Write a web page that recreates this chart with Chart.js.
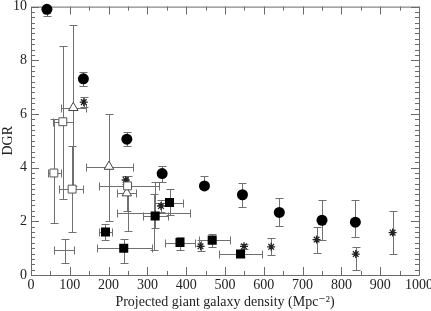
<!DOCTYPE html>
<html>
<head>
<meta charset="utf-8">
<script src="https://cdn.jsdelivr.net/npm/chart.js@4"></script>
<style>
  html, body { margin: 0; padding: 0; background: #fff; }
  #wrap { width: 431px; height: 311px; }
</style>
</head>
<body>
<div id="wrap"><canvas id="chart" width="431" height="311"></canvas></div>
<script>
// Filled circles (y errors only)
const circX = [41, 135, 247, 338, 447, 545, 640, 750, 836];
const circY = [9.9, 7.31, 5.06, 3.78, 3.32, 2.99, 2.33, 2.04, 1.97];
const circLo = [9.66, 7.04, 4.8, 3.48, 3.22, 2.54, 1.81, 1.32, 1.4];
const circHi = [10.15, 7.55, 5.31, 4.06, 3.69, 3.43, 2.86, 2.78, 2.81];

// Filled squares (x and y errors)
const sqX = [192, 239, 320, 357, 384, 467, 540];
const sqY = [1.6, 1.0, 2.2, 2.7, 1.21, 1.3, 0.78];
const sqLo = [1.3, 0.44, 1.75, 2.22, 0.95, 1.03, 0.68];
const sqHi = [1.91, 1.33, 3.45, 3.22, 1.42, 1.54, 0.88];
const sqXLo = [174, 169, 288, 320, 345, 434, 485];
const sqXHi = [210, 313, 354, 393, 423, 513, 595];

// Open squares
const osqX = [59, 82, 106, 249];
const osqY = [3.8, 5.71, 3.2, 3.32];
const osqLo = [1.93, 2.84, 1.6, 1.65];
const osqHi = [5.8, 8.54, 4.8, 3.7];
const osqXLo = [43, 57, 73, 176];
const osqXHi = [77, 107, 135, 330];

// Open triangles
const triX = [109, 201, 247];
const triY = [6.23, 4.04, 3.05];
const triLo = [3.3, 2.01, 2.4];
const triHi = [9.32, 6.01, 3.7];
const triXLo = [77, 142, 222];
const triXHi = [141, 262, 270];

// Asterisks (y errors only)
const astX = [136, 244, 335, 437, 549, 619, 736, 837, 932];
const astY = [6.44, 3.54, 2.57, 1.07, 1.07, 1.05, 1.32, 0.78, 1.58];
const astLo = [6.26, 3.4, 2.34, 0.9, 0.97, 0.73, 0.83, 0.19, 0.77];
const astHi = [6.63, 3.7, 2.78, 1.3, 1.17, 1.36, 1.79, 1.05, 2.38];

// Error crosses with no marker
const crX = [87, 316];
const crY = [0.94, 2.32];
const crLo = [0.43, 0.95];
const crHi = [1.34, 3.0];
const crXLo = [60, 221];
const crXHi = [112, 410];

const xTicks = [0, 100, 200, 300, 400, 500, 600, 700, 800, 900, 1000];
const yTicks = [0, 2, 4, 6, 8, 10];

function points(xs, ys, lo, hi, xlo, xhi) {
  return xs.map((x, i) => ({
    x: x, y: ys[i],
    yMin: lo ? lo[i] : null, yMax: hi ? hi[i] : null,
    xMin: xlo ? xlo[i] : null, xMax: xhi ? xhi[i] : null
  }));
}

const errorBars = {
  id: 'errorBars',
  beforeDatasetsDraw(chart) {
    const { ctx, chartArea, scales: { x, y } } = chart;
    const cap = 4;
    ctx.save();
    ctx.beginPath();
    ctx.rect(chartArea.left, chartArea.top, chartArea.width, chartArea.height);
    ctx.clip();
    ctx.strokeStyle = '#707070';
    ctx.lineWidth = 1;
    chart.data.datasets.forEach(ds => {
      ds.data.forEach(p => {
        const px = Math.round(x.getPixelForValue(p.x)) + 0.5;
        const py = Math.round(y.getPixelForValue(p.y)) + 0.5;
        ctx.beginPath();
        if (p.yMin != null) {
          const y1 = Math.round(y.getPixelForValue(p.yMin)) + 0.5;
          const y2 = Math.round(y.getPixelForValue(p.yMax)) + 0.5;
          ctx.moveTo(px, y1); ctx.lineTo(px, y2);
          ctx.moveTo(px - cap, y1); ctx.lineTo(px + cap, y1);
          ctx.moveTo(px - cap, y2); ctx.lineTo(px + cap, y2);
        }
        if (p.xMin != null) {
          const x1 = Math.round(x.getPixelForValue(p.xMin)) + 0.5;
          const x2 = Math.round(x.getPixelForValue(p.xMax)) + 0.5;
          ctx.moveTo(x1, py); ctx.lineTo(x2, py);
          ctx.moveTo(x1, py - cap); ctx.lineTo(x1, py + cap);
          ctx.moveTo(x2, py - cap); ctx.lineTo(x2, py + cap);
        }
        ctx.stroke();
      });
    });
    ctx.restore();
  }
};

// frame with inward ticks on all four sides
const frame = {
  id: 'frame',
  beforeDatasetsDraw(chart) {
    const { ctx, chartArea: a, scales: { x, y } } = chart;
    ctx.save();
    ctx.strokeStyle = '#6a6a6a';
    ctx.lineWidth = 1;
    ctx.beginPath();
    ctx.rect(a.left + 0.5, a.top + 0.5, a.width, a.height);
    for (let v = 0; v <= 1000; v += 50) {
      const px = Math.round(x.getPixelForValue(v)) + 0.5;
      const len = v % 100 === 0 ? 8 : 4;
      ctx.moveTo(px, a.bottom); ctx.lineTo(px, a.bottom - len);
      ctx.moveTo(px, a.top); ctx.lineTo(px, a.top + len);
    }
    for (let k = 0; k <= 50; k++) {
      const v = k * 0.2;
      const py = Math.round(y.getPixelForValue(v)) + 0.5;
      const len = k % 10 === 0 ? 8 : 4;
      ctx.moveTo(a.left, py); ctx.lineTo(a.left + len, py);
      ctx.moveTo(a.right, py); ctx.lineTo(a.right - len, py);
    }
    ctx.stroke();
    ctx.restore();
  }
};

const serif = "'Liberation Serif', 'DejaVu Serif', serif";

new Chart(document.getElementById('chart'), {
  type: 'scatter',
  data: {
    datasets: [
      { label: 'circles', data: points(circX, circY, circLo, circHi), clip: false,
        pointStyle: 'circle', pointRadius: 5.5, backgroundColor: '#000', borderColor: '#000', borderWidth: 0 },
      { label: 'squares', data: points(sqX, sqY, sqLo, sqHi, sqXLo, sqXHi),
        pointStyle: 'rect', pointRadius: 6.4, backgroundColor: '#000', borderColor: '#000', borderWidth: 0 },
      { label: 'open squares', data: points(osqX, osqY, osqLo, osqHi, osqXLo, osqXHi),
        pointStyle: 'rect', pointRadius: 5.6, backgroundColor: '#fff', borderColor: '#555', borderWidth: 1 },
      { label: 'triangles', data: points(triX, triY, triLo, triHi, triXLo, triXHi),
        pointStyle: 'triangle', pointRadius: 5.5, backgroundColor: '#fff', borderColor: '#444', borderWidth: 1 },
      { label: 'asterisks', data: points(astX, astY, astLo, astHi),
        pointStyle: 'star', pointRadius: 4, backgroundColor: '#000', borderColor: '#222', borderWidth: 1.3 },
      { label: 'crosses', data: points(crX, crY, crLo, crHi, crXLo, crXHi),
        pointRadius: 0, borderColor: '#707070' }
    ]
  },
  options: {
    responsive: false,
    animation: false,
    events: [],
    layout: { padding: { left: 0, right: 0, top: 0, bottom: 0 } },
    plugins: {
      legend: { display: false },
      tooltip: { enabled: false }
    },
    scales: {
      x: {
        type: 'linear', min: 0, max: 1000,
        afterFit: s => { s.height = 36; s.paddingRight = 12; },
        afterBuildTicks: s => { s.ticks = xTicks.map(v => ({ value: v })); },
        grid: { display: false, drawTicks: false },
        border: { display: false },
        ticks: { color: '#222', padding: 2, maxRotation: 0, font: { family: serif, size: 14 },
                 callback: v => String(v) },
        title: { display: true, text: 'Projected giant galaxy density (Mpc\u207B\u00B2)', color: '#222',
                 padding: { top: 0, bottom: 0 }, font: { family: serif, size: 14 } }
      },
      y: {
        type: 'linear', min: 0, max: 10,
        afterFit: s => { s.width = 31; s.paddingTop = 5; },
        afterBuildTicks: s => { s.ticks = yTicks.map(v => ({ value: v })); },
        grid: { display: false, drawTicks: false },
        border: { display: false },
        ticks: { color: '#222', padding: 4, font: { family: serif, size: 14 },
                 callback: v => String(v) },
        title: { display: true, text: 'DGR', color: '#222', padding: { top: 0, bottom: 0 },
                 font: { family: serif, size: 14 } }
      }
    }
  },
  plugins: [errorBars, frame]
});
</script>
</body>
</html>
